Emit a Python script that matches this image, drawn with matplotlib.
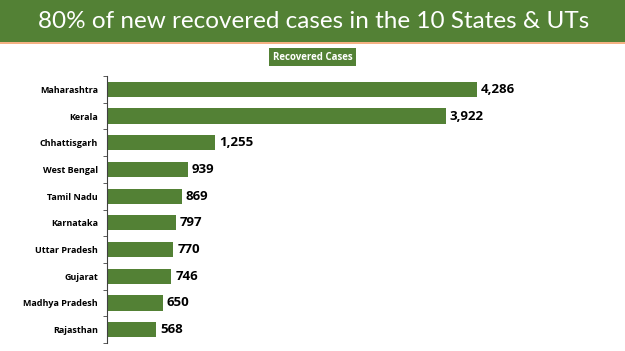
import matplotlib
matplotlib.use("Agg")
import matplotlib.pyplot as plt
from matplotlib.patches import Rectangle
import numpy as np

states = ["Maharashtra", "Kerala", "Chhattisgarh", "West Bengal", "Tamil Nadu",
          "Karnataka", "Uttar Pradesh", "Gujarat", "Madhya Pradesh", "Rajasthan"]
recovered = [4286, 3922, 1255, 939, 869, 797, 770, 746, 650, 568]
title = "80% of new recovered cases in the 10 States & UTs"
legend_label = "Recovered Cases"

green = "#538135"
W, H = 625, 351
fig = plt.figure(figsize=(W / 100, H / 100), dpi=100)
fig.patch.set_facecolor("white")

# banner
fig.patches.append(Rectangle((0, 1 - 42 / H), 1, 42 / H, transform=fig.transFigure,
                             facecolor=green, edgecolor="none", zorder=0))
fig.patches.append(Rectangle((0, 1 - 44 / H), 1, 2 / H, transform=fig.transFigure,
                             facecolor="#F4B183", edgecolor="none", zorder=0))
fig.text(0.502, 1 - 21 / H, title, color="white", fontsize=17.5, family="Lato",
         ha="center", va="center")

# legend-like label box
fig.text(0.5, 1 - 57 / H, legend_label, color="white", fontsize=7, family="Open Sans",
         fontweight="bold", ha="center", va="center",
         bbox=dict(boxstyle="square,pad=0.35", facecolor=green, edgecolor="none"))

left, right = 107, 600
ax_top, ax_bot = 76, 343
ax = fig.add_axes([left / W, 1 - ax_bot / H, (right - left) / W, (ax_bot - ax_top) / H])
scale = (477 - 107) / 4286
ax.set_xlim(0, (right - left) / scale)
y = np.arange(len(states))
ax.barh(y, recovered, height=0.57, color=green)
ax.set_ylim(len(states) - 0.5, -0.5)
ax.set_yticks(y)
ax.set_yticklabels(states, fontsize=6.5, fontweight="bold", family="Open Sans")
ax.tick_params(axis="y", which="major", length=0, pad=6.5)
ax.set_yticks(np.arange(-0.5, len(states), 1), minor=True)
ax.tick_params(axis="y", which="minor", length=3, color="#404040")
ax.set_xticks([])
for s in ["top", "right", "bottom"]:
    ax.spines[s].set_visible(False)
ax.spines["left"].set_color("#404040")
for yi, v in zip(y, recovered):
    ax.text(v + 45, yi, f"{v:,}", va="center", ha="left", fontsize=9.5,
            fontweight="bold", family="Open Sans", color="black")

fig.savefig("out.png", dpi=100)
